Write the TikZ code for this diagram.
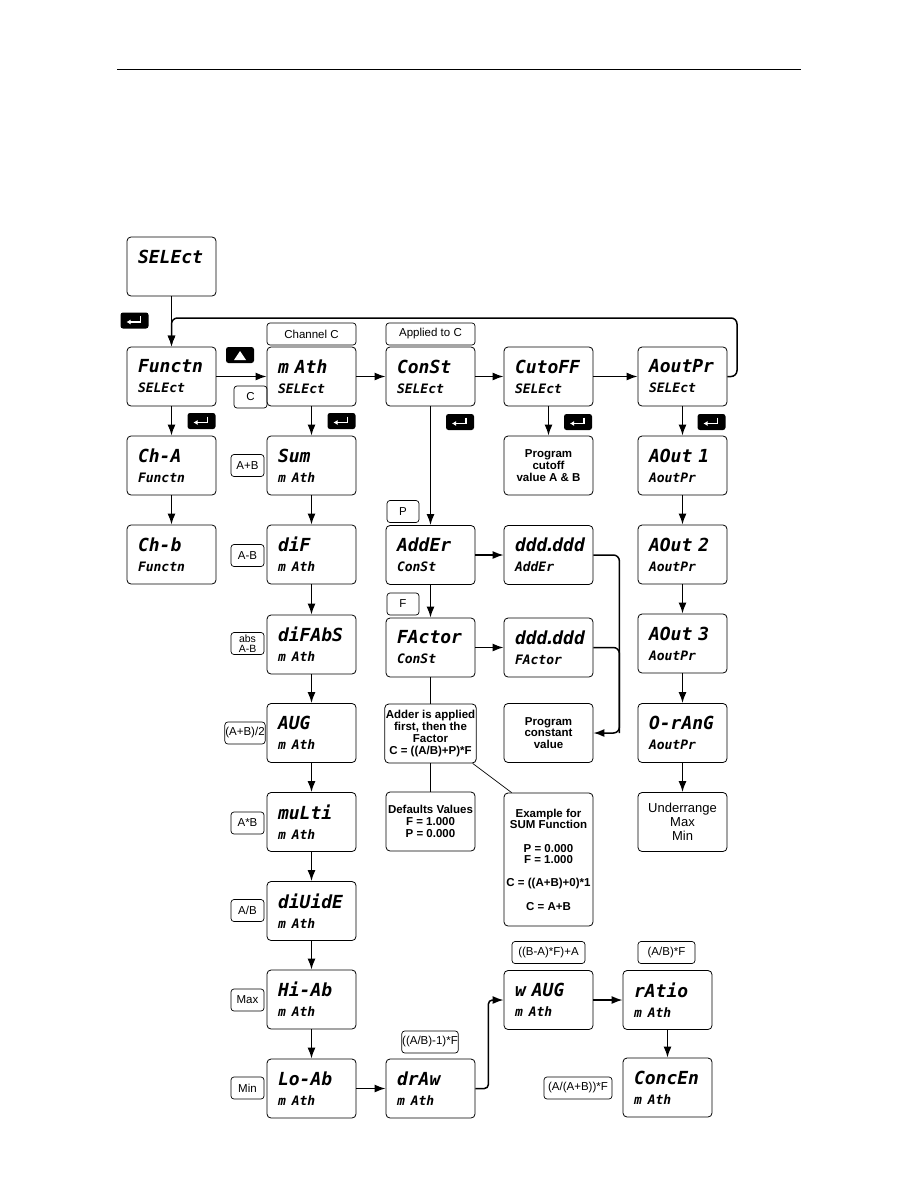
\documentclass[tikz,border=0pt]{standalone}
\usepackage{fontspec}
\setmainfont{Liberation Sans}
\newfontfamily\segfont{DejaVu Sans Mono Bold Oblique}
\newcommand\segsmall{\fontsize{13}{20}\selectfont}
\usetikzlibrary{arrows.meta}

\tikzset{
	screen/.style={draw, line width=0.8pt, rounded corners=4pt, minimum width=89pt, minimum height=59pt,
		text width=67pt, inner xsep=11pt, inner ysep=0pt, align=left,
		font=\segfont\fontsize{18}{20}\selectfont},
	note/.style={draw, line width=0.8pt, rounded corners=4pt, minimum width=89pt, minimum height=59pt,
		inner sep=1pt, align=center, font=\fontsize{11.5}{11.7}\selectfont\bfseries},
	tag/.style={draw, line width=0.7pt, rounded corners=3pt, minimum height=22pt, inner sep=0.5pt,
		font=\fontsize{11.5}{12}\selectfont},
	flow/.style={-{Latex[length=11pt,width=8pt]}, line width=1.5pt},
	thinline/.style={line width=0.7pt},
	enterkey/.pic={
		\fill[rounded corners=2.5pt] (-14,-8) rectangle (14,8);
		\draw[white, line width=1.6pt, -{Latex[length=4pt,width=5pt]}] (6,-4.5) -- (6,1.5) -- (-8,1.5);},
	upkey/.pic={
		\fill[rounded corners=2.5pt] (-14,-8) rectangle (14,8);
		\fill[white] (-6,5) -- (6,5) -- (0,-4) -- cycle;}
}

\begin{document}
\begin{tikzpicture}[x=1pt, y=-1pt]
	\useasboundingbox (0,0) rectangle (918,1188);

	% page rule
	\draw[line width=1pt] (117,70) -- (801,70);

	% top row
	\node[screen] (select) at (171.5,266.5) {SELEct\\\segsmall~};
	\node[screen] (functn) at (171.5,376.5) {Functn\\\segsmall SELEct};
	\node[screen] (math) at (311.5,376.5) {m Ath\\\segsmall SELEct};
	\node[screen] (const) at (430.5,376.5) {ConSt\\\segsmall SELEct};
	\node[screen] (cutoff) at (548.5,376.5) {CutoFF\\\segsmall SELEct};
	\node[screen] (aoutpr) at (682.5,376.5) {AoutPr\\\segsmall SELEct};

	% keys
	\pic (key0) at (134.5,320.5) {enterkey};
	\pic (key1) at (201.5,421) {enterkey};
	\pic (key2) at (341.5,421) {enterkey};
	\pic (key3) at (460,422) {enterkey};
	\pic (key4) at (578,422) {enterkey};
	\pic (key5) at (711.5,422) {enterkey};
	\pic (keyup) at (240,355) {upkey};

	% tags
	\node[tag, minimum width=89pt] (chanc) at (311.5,334) {Channel C};
	\node[tag, minimum width=89pt] (appc) at (430.5,334) {Applied to C};
	\node[tag, minimum width=33pt] (tagc) at (250.5,397) {C};

	% channel inputs
	\node[screen] (cha) at (171.5,465.5) {Ch-A\\\segsmall Functn};
	\node[screen] (chb) at (171.5,554.5) {Ch-b\\\segsmall Functn};

	% math functions
	\node[screen] (sum) at (311.5,465.5) {Sum\\\segsmall m Ath};
	\node[screen] (dif) at (311.5,554.5) {diF\\\segsmall m Ath};
	\node[screen] (difabs) at (311.5,644.5) {diFAbS\\\segsmall m Ath};
	\node[screen] (avg) at (311.5,733) {AUG\\\segsmall m Ath};
	\node[screen] (multi) at (311.5,822) {muLti\\\segsmall m Ath};
	\node[screen] (divide) at (311.5,911) {diUidE\\\segsmall m Ath};
	\node[screen] (hiab) at (311.5,999.5) {Hi-Ab\\\segsmall m Ath};
	\node[screen] (loab) at (311.5,1088.5) {Lo-Ab\\\segsmall m Ath};
	\node[screen] (draw) at (430.5,1088.5) {drAw\\\segsmall m Ath};
	\node[screen] (wavg) at (548.5,1000) {w AUG\\\segsmall m Ath};
	\node[screen] (ratio) at (667.5,1000) {rAtio\\\segsmall m Ath};
	\node[screen] (concen) at (667.5,1087.5) {ConcEn\\\segsmall m Ath};

	\node[tag, minimum width=33pt] (tsum) at (247.5,465.5) {A+B};
	\node[tag, minimum width=33pt] (tdif) at (247.5,555.5) {A-B};
	\node[tag, minimum width=33pt, align=center, font=\fontsize{10.5}{10}\selectfont] (tabs) at (247.5,643.5) {abs\\A-B};
	\node[tag, minimum width=38pt] (tavg) at (245,733) {(A+B)/2};
	\node[tag, minimum width=33pt] (tmul) at (247.5,823) {A*B};
	\node[tag, minimum width=33pt] (tdiv) at (247.5,910.5) {A/B};
	\node[tag, minimum width=33pt] (tmax) at (247.5,1000) {Max};
	\node[tag, minimum width=33pt] (tmin) at (247.5,1088) {Min};
	\node[tag, minimum width=56pt] (tdraw) at (430,1042) {((A/B)-1)*F};
	\node[tag, minimum width=73pt] (twavg) at (548.5,952.5) {((B-A)*F)+A};
	\node[tag, minimum width=57pt] (tratio) at (666.5,952.5) {(A/B)*F};
	\node[tag, minimum width=68pt] (tconc) at (578,1088) {(A/(A+B))*F};

	% constants
	\node[screen] (adder) at (430.5,555) {AddEr\\\segsmall ConSt};
	\node[screen] (factor) at (430.5,647.5) {FActor\\\segsmall ConSt};
	\node[screen] (addval) at (548.5,555) {ddd\kern-3pt.\kern-3pt ddd\\\segsmall AddEr};
	\node[screen] (facval) at (548.5,647.5) {ddd\kern-3pt.\kern-3pt ddd\\\segsmall FActor};
	\node[tag, minimum width=32pt] (tp) at (403,511.5) {P};
	\node[tag, minimum width=32pt] (tf) at (403,604) {F};

	\node[note] (cutnote) at (548.5,465.5) {Program\\cutoff\\value A \& B};
	\node[note] (constnote) at (548.5,733) {Program\\constant\\value};
	\node[note] (addnote) at (430.5,733.5) {Adder is applied\\first, then the\\Factor\\C = ((A/B)+P)*F};
	\node[note] (defnote) at (430.5,821.5) {Defaults Values\\F = 1.000\\P = 0.000};
	\node[note, minimum height=133pt] (sumnote) at (548.5,859.5)
		{Example for\\SUM Function\\[11.5pt]P = 0.000\\F = 1.000\\[11.5pt]C = ((A+B)+0)*1\\[11.5pt]C = A+B};

	% analog output
	\node[screen] (aout1) at (682.5,465.5) {AOut 1\\\segsmall AoutPr};
	\node[screen] (aout2) at (682.5,554.5) {AOut 2\\\segsmall AoutPr};
	\node[screen] (aout3) at (682.5,643.5) {AOut 3\\\segsmall AoutPr};
	\node[screen] (orange) at (682.5,733) {O-rAnG\\\segsmall AoutPr};
	\node[note, font=\fontsize{13}{14}\selectfont] (ornote) at (682.5,822) {Underrange\\Max\\Min};

	% connectors
	\coordinate (loop) at (737,318);
	\draw[flow] (select) -- (functn);
	\draw[flow, rounded corners=6pt] (aoutpr.east) -| (loop) -| (functn.north);
	\draw[flow] (functn) -- (math);
	\draw[flow] (math) -- (const);
	\draw[flow] (const) -- (cutoff);
	\draw[flow] (cutoff) -- (aoutpr);

	\draw[flow] (functn) -- (cha);
	\draw[flow] (cha) -- (chb);

	\draw[flow] (math) -- (sum);
	\draw[flow] (sum) -- (dif);
	\draw[flow] (dif) -- (difabs);
	\draw[flow] (difabs) -- (avg);
	\draw[flow] (avg) -- (multi);
	\draw[flow] (multi) -- (divide);
	\draw[flow] (divide) -- (hiab);
	\draw[flow] (hiab) -- (loab);
	\draw[flow] (loab) -- (draw);
	\draw[flow, rounded corners=4pt] (draw.east) -- ++(13,0) |- (wavg.west);
	\draw[flow] (wavg) -- (ratio);
	\draw[flow] (ratio) -- (concen);

	\draw[flow] (const) -- (adder);
	\draw[flow] (adder) -- (factor);
	\draw[flow] (adder) -- (addval);
	\draw[flow] (factor) -- (facval);
	\draw[flow, rounded corners=6pt] (addval.east) -- ++(26,0) |- (constnote.east);
	\draw[line width=1.5pt, rounded corners=6pt] (facval.east) -| ([xshift=26pt]constnote.east);
	\draw[thinline] (factor) -- (addnote);
	\draw[thinline] (addnote) -- (defnote);
	\draw[thinline] ([xshift=-4pt]addnote.south east) -- ([xshift=8pt]sumnote.north west);

	\draw[flow] (cutoff) -- (cutnote);
	\draw[flow] (aoutpr) -- (aout1);
	\draw[flow] (aout1) -- (aout2);
	\draw[flow] (aout2) -- (aout3);
	\draw[flow] (aout3) -- (orange);
	\draw[flow] (orange) -- (ornote);
\end{tikzpicture}
\end{document}
